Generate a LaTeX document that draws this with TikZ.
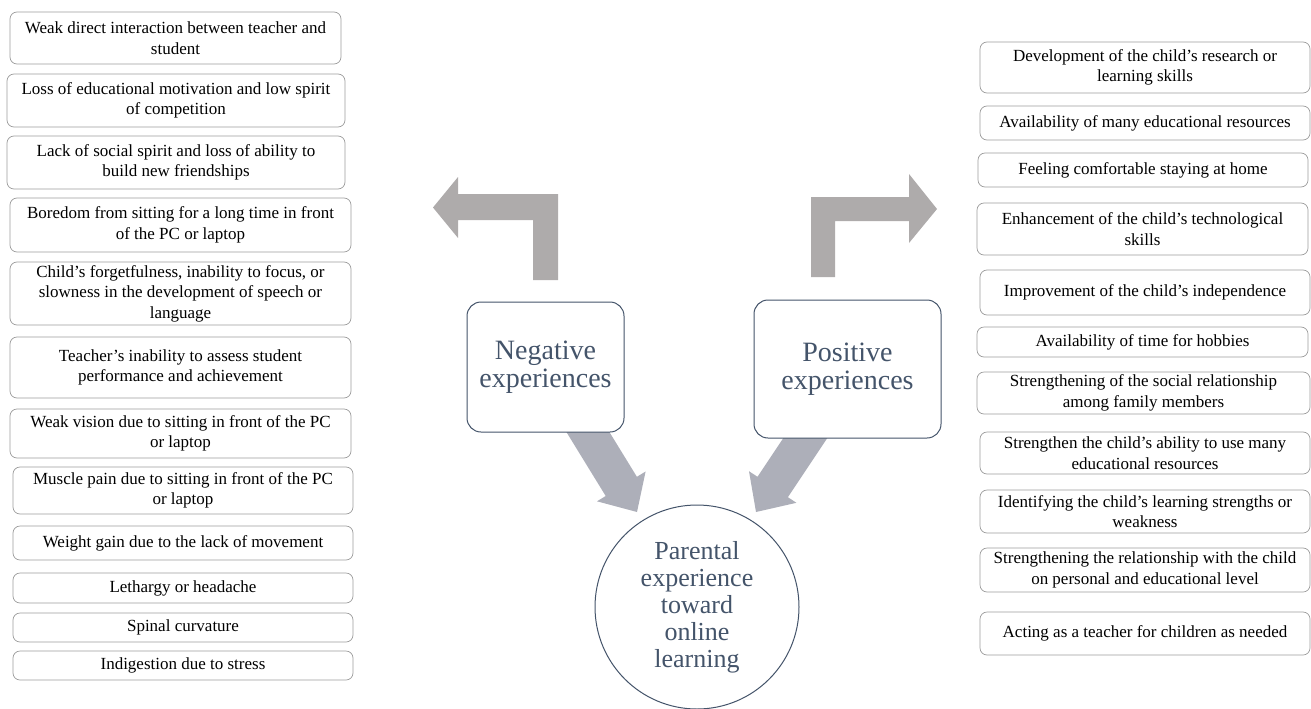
\documentclass[tikz,border=0pt]{standalone}
\usepackage{fontspec}
\setmainfont{Liberation Serif}
\definecolor{slate}{HTML}{44546A}
\definecolor{lgray}{HTML}{AEABAB}
\definecolor{bgray}{HTML}{ADAFB9}
\definecolor{boxline}{HTML}{9C9C9C}
\begin{document}
\begin{tikzpicture}[x=1pt,y=-1pt,
  lbox/.style={draw=boxline, line width=0.7pt, rounded corners=7pt, align=center, inner sep=0pt, fill=white,
    font=\fontsize{17}{20.5}\selectfont},
  cbox/.style={draw=slate, line width=1pt, rounded corners=14pt, fill=white, align=center, inner sep=0pt,
    text=slate, font=\fontsize{28}{28.5}\selectfont},
  pcircle/.style={circle, draw=slate, line width=1pt, fill=white, align=center, inner sep=0pt,
    text=slate, font=\fontsize{26}{27}\selectfont},
  larrow/.style={fill=lgray},
  darrow/.style={fill=bgray}]
\useasboundingbox (0,0) rectangle (1311,709);

% L-shaped block arrows
\fill[larrow] (558,280) -- (558,194) -- (458,194) -- (458,177) -- (433,207.5) -- (458,238) -- (458,220) -- (533,220) -- (533,280) -- cycle;
\fill[larrow] (811,277) -- (811,197) -- (909,197) -- (909,174) -- (937,209) -- (909,243) -- (909,221) -- (835,221) -- (835,277) -- cycle;

% diagonal block arrows
\fill[darrow] (559,420) -- (602,420) -- (636.9,476.8) -- (645.6,471.5) -- (637,512) -- (597,501.3) -- (605.7,496) -- cycle;
\fill[darrow] (836,425) -- (792,425) -- (757.5,476.8) -- (749,471.2) -- (756,512) -- (796.4,502.8) -- (787.9,497.2) -- cycle;

% central nodes
\node[cbox, minimum width=157pt, minimum height=130pt] (neg) at (545.5,367) {Negative\\experiences};
\node[cbox, minimum width=187pt, minimum height=138pt] (pos) at (847.5,369) {Positive\\experiences};
\node[pcircle, minimum size=204pt] (par) at (697,607) {Parental\\experience\\toward\\online\\learning};

% negative list
\node[lbox, minimum width=331pt, minimum height=52pt] (n1) at (175.5,38) {Weak direct interaction between teacher and\\student};
\node[lbox, minimum width=338pt, minimum height=53pt] (n2) at (176,100.5) {Loss of educational motivation and low spirit\\of competition};
\node[lbox, minimum width=338pt, minimum height=53pt] (n3) at (176,162.5) {Lack of social spirit and loss of ability to\\build new friendships};
\node[lbox, minimum width=341pt, minimum height=54pt] (n4) at (180.5,225) {Boredom from sitting for a long time in front\\of the PC or laptop};
\node[lbox, minimum width=341pt, minimum height=63pt] (n5) at (180.5,293.5) {Child’s forgetfulness, inability to focus, or\\slowness in the development of speech or\\language};
\node[lbox, minimum width=341pt, minimum height=61pt] (n6) at (180.5,367.5) {Teacher’s inability to assess student\\performance and achievement};
\node[lbox, minimum width=341pt, minimum height=49pt] (n7) at (180.5,433.5) {Weak vision due to sitting in front of the PC\\or laptop};
\node[lbox, minimum width=340pt, minimum height=47pt] (n8) at (183,490.5) {Muscle pain due to sitting in front of the PC\\or laptop};
\node[lbox, minimum width=340pt, minimum height=34pt] (n9) at (183,543) {Weight gain due to the lack of movement};
\node[lbox, minimum width=340pt, minimum height=30pt] (n10) at (183,588) {Lethargy or headache};
\node[lbox, minimum width=340pt, minimum height=29pt] (n11) at (183,627.5) {Spinal curvature};
\node[lbox, minimum width=340pt, minimum height=29pt] (n12) at (183,665.5) {Indigestion due to stress};

% positive list
\node[lbox, minimum width=330pt, minimum height=51pt] (p1) at (1145,67.5) {Development of the child’s research or\\learning skills};
\node[lbox, minimum width=330pt, minimum height=34pt] (p2) at (1145,123) {Availability of many educational resources};
\node[lbox, minimum width=330pt, minimum height=34pt] (p3) at (1143,170) {Feeling comfortable staying at home};
\node[lbox, minimum width=331pt, minimum height=52pt] (p4) at (1142.5,229) {Enhancement of the child’s technological\\skills};
\node[lbox, minimum width=330pt, minimum height=45pt] (p5) at (1145,292.5) {Improvement of the child’s independence};
\node[lbox, minimum width=331pt, minimum height=30pt] (p6) at (1142.5,342) {Availability of time for hobbies};
\node[lbox, minimum width=333pt, minimum height=42pt] (p7) at (1143.5,393) {Strengthening of the social relationship\\among family members};
\node[lbox, minimum width=330pt, minimum height=42pt] (p8) at (1145,453) {Strengthen the child’s ability to use many\\educational resources};
\node[lbox, minimum width=330pt, minimum height=43pt] (p9) at (1145,511.5) {Identifying the child’s learning strengths or\\weakness};
\node[lbox, minimum width=330pt, minimum height=44pt] (p10) at (1145,570) {Strengthening the relationship with the child\\on personal and educational level};
\node[lbox, minimum width=330pt, minimum height=43pt] (p11) at (1145,633.5) {Acting as a teacher for children as needed};
\end{tikzpicture}
\end{document}
